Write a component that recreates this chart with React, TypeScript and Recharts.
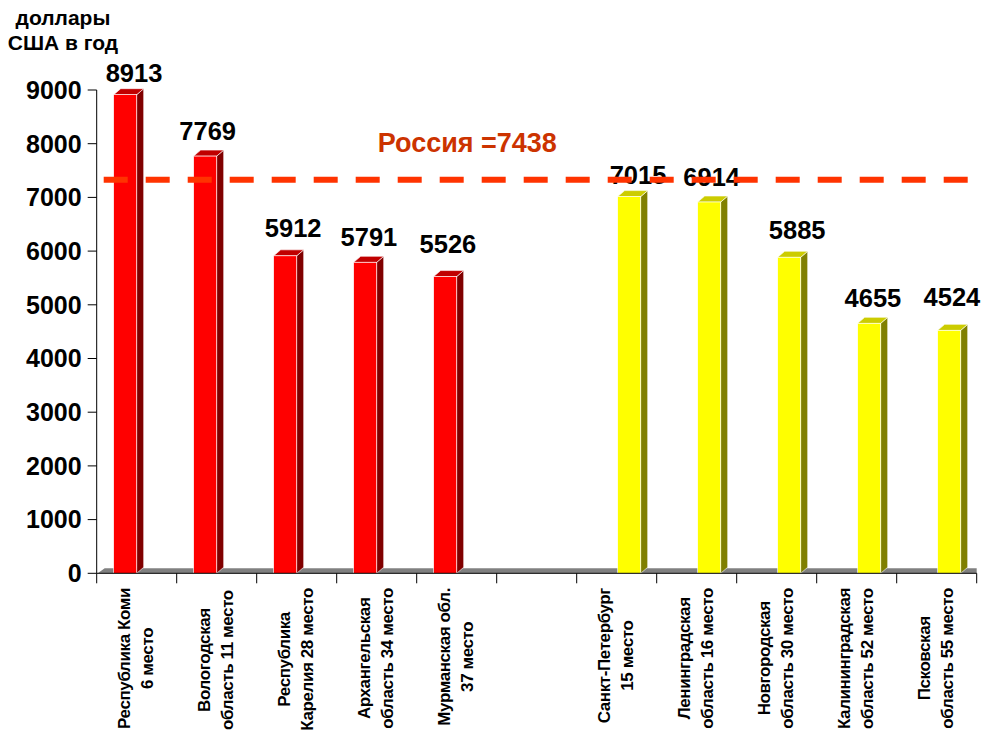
import React from 'react';
import { BarChart, Bar, XAxis, YAxis, ReferenceLine, LabelList, Label } from 'recharts';

const FF = "'Liberation Sans', Arial, sans-serif";

const categories: string[] = [
  'Республика Коми\n6 место',
  'Вологодская\nобласть  11 место',
  'Республика\nКарелия 28 место',
  'Архангельская\nобласть 34 место',
  'Мурманская обл.\n37 место',
  '',
  'Санкт-Петербург\n15 место',
  'Ленинградская\nобласть 16 место',
  'Новгородская\nобласть 30 место',
  'Калининградская\nобласть 52 место',
  'Псковская\nобласть 55 место',
];

const northValues: (number | null)[] = [8913, 7769, 5912, 5791, 5526, null, null, null, null, null, null];
const westValues: (number | null)[] = [null, null, null, null, null, null, 7015, 6914, 5885, 4655, 4524];

const yTicks = [0, 1000, 2000, 3000, 4000, 5000, 6000, 7000, 8000, 9000];
const yUnitLines = ['доллары', 'США в год'];
const russiaLevel = 7330;
const russiaLabel = 'Россия =7438';

// label placement nudges (style only): gap above bar front top, horizontal shift from bar centre
const labelGap = [12.5, 16.5, 18.5, 16.5, 24, 0, 10.5, 15.5, 15.5, 16.5, 19];
const labelShift = [8.8, 2.5, 8, 3.7, 2.7, 0, 5, 0.4, 2.5, 1.5, 3.2];

const data = categories.map((name, i) => ({ name, north: northValues[i], west: westValues[i] }));

const CHART_W = 981;
const CHART_H = 740;
const MARGIN = { top: 90, right: 4.3, bottom: 6.7, left: 0 };
const Y_AXIS_W = 96.7;
const X_AXIS_H = 160;
const PLOT_W = CHART_W - MARGIN.left - MARGIN.right - Y_AXIS_W;
const HALF_BAND = PLOT_W / categories.length / 2;

const CAT_FONT = 17;
const CAT_LS = -0.4;

let ctx: CanvasRenderingContext2D | null = null;
function measure(s: string, font: string): number {
  if (!ctx) ctx = document.createElement('canvas').getContext('2d');
  if (!ctx) return s.length * 9;
  ctx.font = font;
  return ctx.measureText(s).width;
}

const DX = 7;
const DY = 6;

const make3D = (front: string, top: string, side: string) => (props: any) => {
  const { x, y, width, height } = props;
  if (!Number.isFinite(height) || height <= 0 || !Number.isFinite(x)) return null;
  const w = width;
  return (
    <g>
      <polygon
        points={`${x + w},${y} ${x + w + DX},${y - DY} ${x + w + DX},${y + height - DY} ${x + w},${y + height}`}
        fill={side}
        stroke="#fff"
        strokeWidth={0.6}
      />
      <polygon
        points={`${x},${y} ${x + DX},${y - DY} ${x + w + DX},${y - DY} ${x + w},${y}`}
        fill={top}
        stroke="#fff"
        strokeWidth={0.6}
      />
      <rect x={x} y={y} width={w} height={height} fill={front} stroke="#fff" strokeWidth={0.6} />
    </g>
  );
};

const northShape = make3D('#FF0000', '#C00000', '#800000');
const westShape = make3D('#FFFF00', '#CCCC00', '#808000');

const valueLabel = (props: any) => {
  const { x, y, width, value, index } = props;
  if (value == null || !Number.isFinite(x)) return null;
  const i = typeof index === 'number' ? index : 0;
  return (
    <text
      x={x + width / 2 + (labelShift[i] ?? 4)}
      y={y - (labelGap[i] ?? 15)}
      textAnchor="middle"
      fontSize={25.5}
      fontWeight="bold"
      fontFamily={FF}
      fill="#000"
    >
      {value}
    </text>
  );
};

const CategoryTick = (props: any) => {
  const { x, y, payload } = props;
  const index = props.index ?? payload?.index ?? 0;
  const lines = String(payload?.value ?? '').split('\n').filter((l) => l.length > 0);
  const font = `bold ${CAT_FONT}px ${FF}`;
  const maxW = lines.length
    ? Math.max(...lines.map((l) => measure(l, font) + CAT_LS * l.length))
    : 0;
  const cy = y + 14.7 + maxW / 2;
  return (
    <g>
      <line x1={x - HALF_BAND} x2={x - HALF_BAND} y1={y} y2={y + 10} stroke="#000" strokeWidth={1} />
      {index === categories.length - 1 && (
        <line x1={x + HALF_BAND} x2={x + HALF_BAND} y1={y} y2={y + 10} stroke="#000" strokeWidth={1} />
      )}
      {lines.length > 0 && (
        <g transform={`translate(${x},${cy}) rotate(-90)`}>
          {lines.map((l, i) => (
            <text
              key={i}
              x={0}
              y={i === 0 ? -6.5 : 16}
              textAnchor="middle"
              fontSize={CAT_FONT}
              letterSpacing={CAT_LS}
              fontWeight="bold"
              fontFamily={FF}
              fill="#000"
            >
              {l}
            </text>
          ))}
        </g>
      )}
    </g>
  );
};

const floorShape = (props: any) => {
  const { x1, x2, y1 } = props;
  if (!Number.isFinite(x1) || !Number.isFinite(y1)) return null;
  return (
    <polygon
      points={`${x1 + 1},${y1} ${x1 + 8},${y1 - 5} ${x2},${y1 - 5} ${x2},${y1}`}
      fill="#808080"
    />
  );
};

const russiaShape = (props: any) => {
  const { x1, x2, y1 } = props;
  if (!Number.isFinite(x1) || !Number.isFinite(y1)) return null;
  return (
    <g>
      <line
        x1={x1 + 7}
        x2={x2 - 7}
        y1={y1}
        y2={y1}
        stroke="#FF3300"
        strokeWidth={6}
        strokeDasharray="24 18"
      />
      <text x={x1 + 281} y={y1 - 27.5} fontSize={27} fontWeight="bold" fontFamily={FF} fill="#CC3300">
        {russiaLabel}
      </text>
    </g>
  );
};

const unitLabel = (props: any) => {
  const vb = props.viewBox || {};
  const top = vb.y ?? 90;
  return (
    <g>
      {yUnitLines.map((l, i) => (
        <text
          key={i}
          x={63}
          y={top - 65 + i * 25}
          textAnchor="middle"
          fontSize={21}
          fontWeight="bold"
          fontFamily={FF}
          fill="#000"
        >
          {l}
        </text>
      ))}
    </g>
  );
};

export default function App() {
  return (
    <div style={{ position: 'absolute', left: 0, top: 0, width: CHART_W, height: CHART_H, background: '#fff' }}>
      <BarChart width={CHART_W} height={CHART_H} data={data} margin={MARGIN} barSize={23} barGap={1}>
        <XAxis
          dataKey="name"
          interval={0}
          height={X_AXIS_H}
          tickLine={false}
          tickSize={0}
          tickMargin={0}
          axisLine={{ stroke: '#000', strokeWidth: 1 }}
          tick={<CategoryTick />}
        />
        <YAxis
          width={Y_AXIS_W}
          domain={[0, 9000]}
          ticks={yTicks}
          interval={0}
          tickSize={9}
          tickMargin={6}
          axisLine={{ stroke: '#000', strokeWidth: 1 }}
          tickLine={{ stroke: '#000', strokeWidth: 1 }}
          tick={{ fontSize: 25, fontWeight: 'bold', fill: '#000', fontFamily: FF }}
        >
          <Label content={unitLabel} />
        </YAxis>
        <ReferenceLine y={0} shape={floorShape} zIndex={-10} />
        <Bar dataKey="north" shape={northShape} isAnimationActive={false}>
          <LabelList dataKey="north" content={valueLabel} />
        </Bar>
        <Bar dataKey="west" shape={westShape} isAnimationActive={false}>
          <LabelList dataKey="west" content={valueLabel} />
        </Bar>
        <ReferenceLine y={russiaLevel} shape={russiaShape} zIndex={3000} />
      </BarChart>
    </div>
  );
}
